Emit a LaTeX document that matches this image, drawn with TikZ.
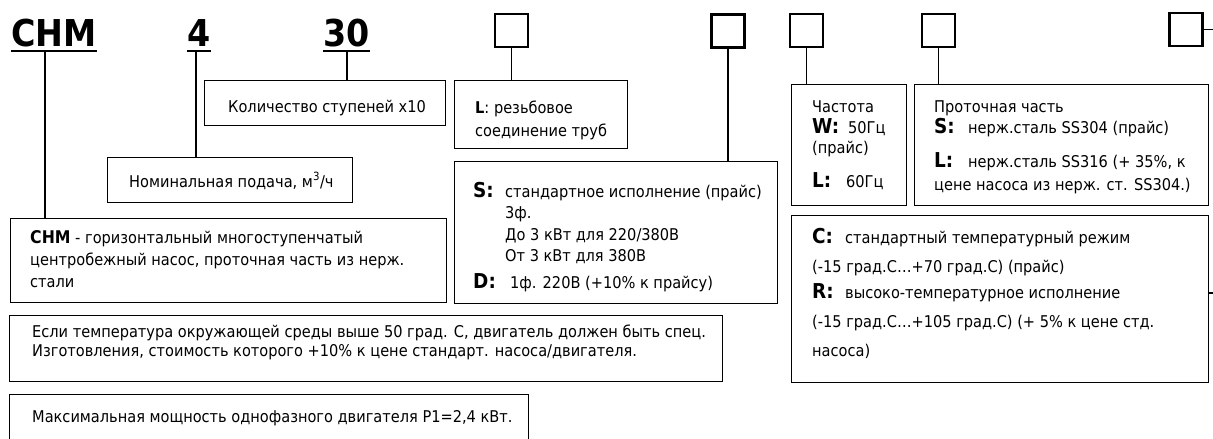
\documentclass[tikz,border=0pt]{standalone}
\usepackage{fontspec}
\setmainfont{DejaVu Sans Condensed}
\tikzset{
  box/.style={draw, line width=1.4pt, inner sep=0pt, anchor=north west},
  sq/.style={draw, line width=2.6pt, minimum size=33pt, inner sep=0pt},
  conn/.style={line width=1.4pt},
  ul/.style={line width=2.8pt},
  txt/.style={anchor=base west, inner sep=0pt, font=\fontsize{16.2}{19}\selectfont},
  big/.style={anchor=base west, inner sep=0pt, font=\fontsize{20.5}{24}\selectfont\bfseries},
  hdr/.style={anchor=base west, inner sep=0pt, font=\fontsize{37}{40}\selectfont\bfseries},
}
\begin{document}
\begin{tikzpicture}[x=1pt,y=-1pt]
\useasboundingbox[fill=white] (0,0) rectangle (1213,439);
% header
\node[hdr] (hCHM) at (11,46) {CHM};
\node[hdr] (h4) at (187,46) {4};
\node[hdr] (h30) at (323,46) {30};
\draw[ul] ([yshift=-5pt]hCHM.base west) -- ([yshift=-5pt]hCHM.base east);
\draw[ul] ([yshift=-5pt]h4.base west) -- ([yshift=-5pt]h4.base east);
\draw[ul] ([yshift=-5pt]h30.base west) -- ([yshift=-5pt]h30.base east);
\coordinate (uCHM) at (45,52);
\coordinate (u4) at (196,52);
\coordinate (u30) at (347,52);
% squares
\node[sq] (sq1) at (511.5,30.5) {};
\node[sq] (sq2) at (728,31) {};
\node[sq] (sq3) at (806.5,30.5) {};
\node[sq] (sq4) at (938.5,30.5) {};
\node[sq] (sq5) at (1186,29.5) {};
\coordinate (edgeA) at (1213,29.5);
\coordinate (edgeB) at (1213,293);
% boxes
\node[box, minimum width=241pt, minimum height=45pt] (kol) at (204,80) {};
\node[box, minimum width=173pt, minimum height=68pt] (lb) at (454,80) {};
\node[box, minimum width=245pt, minimum height=45pt] (nom) at (107,157) {};
\node[box, minimum width=436pt, minimum height=84pt] (dchm) at (10,218) {};
\node[box, minimum width=323pt, minimum height=142pt] (sd) at (454,161) {};
\node[box, minimum width=115pt, minimum height=121pt] (fr) at (791,84) {};
\node[box, minimum width=294pt, minimum height=121pt] (fl) at (914,84) {};
\node[box, minimum width=417pt, minimum height=167pt] (cr) at (791,215) {};
\node[box, minimum width=713pt, minimum height=66pt] (esli) at (9,315) {};
\node[box, minimum width=519pt, minimum height=60pt] (mx) at (9,394) {};
% connectors
\draw[conn] (uCHM) -- (uCHM |- dchm.north);
\draw[conn] (u4) -- (u4 |- nom.north);
\draw[conn] (u30) -- (u30 |- kol.north);
\draw[conn] (sq1.south) -- (sq1.south |- lb.north);
\draw[conn] (sq2.south) -- (sq2.south |- sd.north);
\draw[conn] (sq3.south) -- (sq3.south |- fr.north);
\draw[conn] (sq4.south) -- (sq4.south |- fl.north);
\draw[conn] (sq5.east) -- (edgeA);
\draw[conn] (edgeB -| cr.east) -- (edgeB);
% texts
\node[txt] (t1) at (228,112) {Количество ступеней x10};
\node[txt] (t2) at (475,113) {\textbf{L}: резьбовое};
\node[txt] (t3) at (475,136) {соединение труб};
\node[txt] (t4) at (129,187) {Номинальная подача, м\textsuperscript{3}/ч};
\node[txt] (t5) at (30,243) {{\fontsize{17.5}{20}\selectfont\bfseries CHM} - горизонтальный многоступенчатый};
\node[txt] (t6) at (30,265) {центробежный насос, проточная часть из нерж.};
\node[txt] (t7) at (30,287) {стали};
\node[big] (s1) at (473,197) {S:};
\node[txt] (t8) at (505,197) {стандартное исполнение (прайс)};
\node[txt] (t9) at (505,218) {3ф.};
\node[txt] (t10) at (505,240) {До 3 кВт для 220/380В};
\node[txt] (t11) at (505,261) {От 3 кВт для 380В};
\node[big] (d1) at (473,288) {D:};
\node[txt] (t12) at (510,288) {1ф. 220В (+10\% к прайсу)};
\node[txt] (t13) at (812,112) {Частота};
\node[big] (w1) at (812,133) {W:};
\node[txt] (t14) at (848,133) {50Гц};
\node[txt] (t15) at (812,153) {(прайс)};
\node[big] (l1) at (812,187) {L:};
\node[txt] (t16) at (846,187) {60Гц};
\node[txt] (t17) at (934,112) {Проточная часть};
\node[big] (s2) at (934,133) {S:};
\node[txt] (t18) at (968,133) {нерж.сталь SS304 (прайс)};
\node[big] (l2) at (934,167) {L:};
\node[txt] (t19) at (968,167) {нерж.сталь SS316 (+ 35\%, к};
\node[txt] (t20) at (934,190) {цене насоса из нерж. ст. SS304.)};
\node[big] (c1) at (812,243) {C:};
\node[txt] (t21) at (845,243) {стандартный температурный режим};
\node[txt] (t22) at (812,272) {(-15 град.С…+70 град.С) (прайс)};
\node[big] (r1) at (812,298) {R:};
\node[txt] (t23) at (845,298) {высоко-температурное исполнение};
\node[txt] (t24) at (812,327) {(-15 град.С…+105 град.С) (+ 5\% к цене стд.};
\node[txt] (t25) at (812,356) {насоса)};
\node[txt] (t26) at (32,337) {Если температура окружающей среды выше 50 град. С, двигатель должен быть спец.};
\node[txt] (t27) at (32,356) {Изготовления, стоимость которого +10\% к цене стандарт. насоса/двигателя.};
\node[txt] (t28) at (32,422) {Максимальная мощность однофазного двигателя P1=2,4 кВт.};
\end{tikzpicture}
\end{document}
